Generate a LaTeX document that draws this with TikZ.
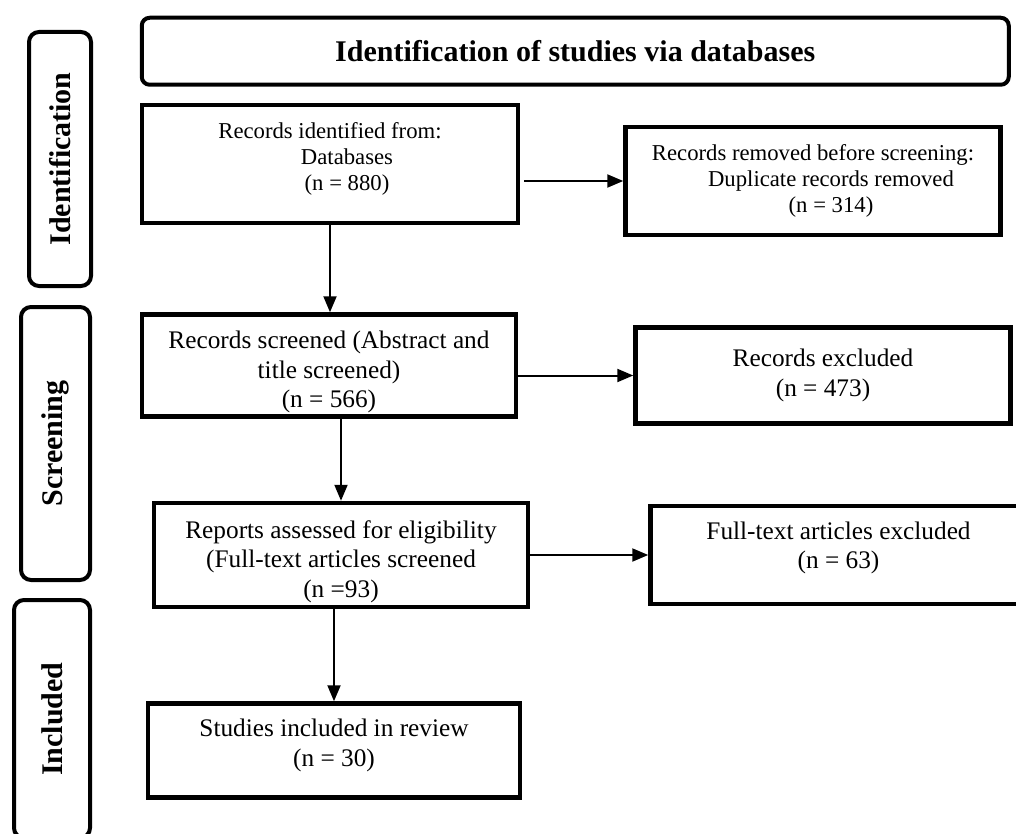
\documentclass[tikz,border=0pt]{standalone}
\usepackage{fontspec}
\setmainfont{Liberation Serif}
\usetikzlibrary{arrows.meta, positioning}

% struts that push the text down (top) or up (bottom) inside a box
\newcommand{\toppad}[1]{\rule{0pt}{#1}}
\newcommand{\botpad}[1]{\rule[-#1]{0pt}{0pt}}

\begin{document}
\begin{tikzpicture}[
      x=1pt, y=1pt,
      box/.style={draw, line width=4.5pt, align=center, inner sep=0pt, font=\fontsize{25.3}{29.5}\selectfont},
      smalltxt/.style={font=\fontsize{22.7}{26}\selectfont},
      phase/.style={draw, line width=4pt, rounded corners=10pt, inner sep=0pt, font=\fontsize{30}{34}\selectfont\bfseries},
      arr/.style={-{Triangle[length=16pt, width=13pt]}, line width=2pt},
    ]
    \useasboundingbox (0,0) rectangle (1016,-834);
    \clip (0,0) rectangle (1016,-834);

    % Main column
    \node[box, smalltxt, minimum width=376pt, minimum height=118pt] (ident) at (330,-164)
      {Records identified from:\\\hspace*{34pt}Databases\\\hspace*{34pt}(n = 880)\botpad{15pt}};
    \node[box, below=87pt of ident, xshift=-1pt, minimum width=374pt, minimum height=102pt] (screen)
      {\toppad{30.5pt}Records screened (Abstract and\\title screened)\\(n = 566)};
    \node[box, below=82pt of screen, xshift=12pt, minimum width=374pt, minimum height=104pt] (elig)
      {\toppad{30.5pt}Reports assessed for eligibility\\(Full-text articles screened\\(n =93)};
    \node[box, below=92pt of elig, xshift=-7pt, minimum width=372pt, minimum height=94pt] (incl)
      {Studies included in review\\(n = 30)\botpad{16pt}};

    % Side column
    \node[box, smalltxt, right=103pt of ident, yshift=-17pt, minimum width=375pt, minimum height=108pt] (dupl)
      {Records removed before screening:\\\hspace*{36pt}Duplicate records removed\\\hspace*{36pt}(n = 314)};
    \node[box, right=115pt of screen, yshift=-10pt, minimum width=375pt, minimum height=96pt] (excl)
      {Records excluded\\(n = 473)};
    \node[box, right=118pt of elig, minimum width=376pt, minimum height=98pt] (ftexcl)
      {Full-text articles excluded\\(n = 63)\botpad{20pt}};

    % Title and phases
    \node[phase, rounded corners=8pt, above=16pt of ident.north west, anchor=south west, minimum width=867pt, minimum height=67pt] (title)
      {Identification of studies via databases};
    \node[phase, rotate=90, minimum width=254pt, minimum height=62pt] (phid) at (60,-159) {Identification};
    \node[phase, rotate=90, minimum width=273pt, minimum height=69pt] (phsc) at (55.5,-443.5) {Screening};
    \node[phase, rotate=90, minimum width=238pt, minimum height=76pt] (phin) at (52,-719) {Included};

    % Arrows
    \draw[arr] (ident.south) -- (ident.south |- screen.north);
    \draw[arr] (elig.north |- screen.south) -- (elig.north);
    \draw[arr] (incl.north |- elig.south) -- (incl.north);
    \draw[arr] ([xshift=4pt]ident.east |- dupl.west) -- (dupl.west);
    \draw[arr] (screen.east |- excl.west) -- (excl.west);
    \draw[arr] (elig.east |- ftexcl.west) -- (ftexcl.west);
  \end{tikzpicture}
\end{document}
